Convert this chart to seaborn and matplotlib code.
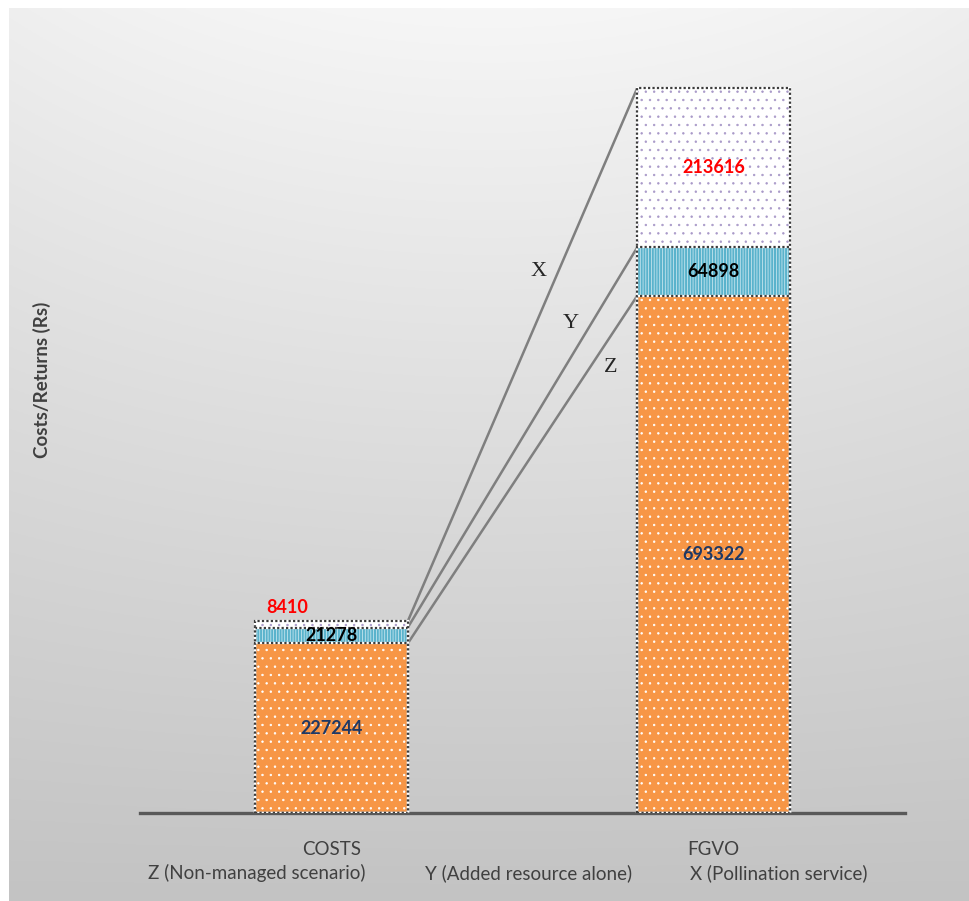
import numpy as np
import pandas as pd
import matplotlib
matplotlib.use("Agg")
import matplotlib.pyplot as plt
import seaborn as sns

# Values (Rs)
categories = ["COSTS", "FGVO"]
z_values = [227244, 693322]   # Z (Non-managed scenario)
y_values = [21278, 64898]     # Y (Added resource alone)
x_values = [8410, 213616]     # X (Pollination service)
legend_labels = ["Z (Non-managed scenario)", "Y (Added resource alone)", "X (Pollination service)"]
connector_labels = ["Z", "Y", "X"]

sns.set_theme(style="white")
plt.rcParams["font.family"] = ["Lato", "DejaVu Sans"]
plt.rcParams["hatch.linewidth"] = 0.5

W, H = 969, 901
fig = plt.figure(figsize=(W / 100, H / 100), dpi=100)
fig.patch.set_facecolor("white")

# Soft grey gradient panel behind the chart
bg = fig.add_axes([9 / W, 0, 1 - 9 / W, 1 - 8 / H], zorder=0)
yy = np.linspace(0, 1, 400)[:, None]
xx = np.linspace(-1, 1, 400)[None, :]
shade = 0.965 - 0.2 * yy - 0.03 * (1 - yy) * xx ** 2
shade = np.clip(shade, 0, 1)
bg.imshow(np.dstack([shade, shade, shade]), aspect="auto", extent=[0, 1, 1, 0])
bg.set_axis_off()

ax = fig.add_axes([140 / W, 1 - 813 / H, (905 - 140) / W, (813 - 50) / H], zorder=1)
ax.patch.set_alpha(0)

df = pd.DataFrame({
    "cat": categories,
    "z": z_values,
    "y": y_values,
    "x": x_values,
})
df["zy"] = df["z"] + df["y"]
df["zyx"] = df["zy"] + df["x"]

layers = [
    ("zyx", "white", "..", "#a898c8"),
    ("zy", "#5ab3cc", "||||||", "#d8eef4"),
    ("z", "#f79646", "..", "white"),
]
for col, face, hatch, hcol in layers:
    n0 = len(ax.patches)
    sns.barplot(data=df, x="cat", y=col, order=categories, color=face,
                saturation=1, width=0.4, ax=ax, errorbar=None)
    for p in ax.patches[n0:]:
        p.set_facecolor(face)
        p.set_hatch(hatch)
        p.set_edgecolor(hcol)
        p.set_linewidth(0)

# Dotted segment outlines
for col in ["zyx", "zy", "z"]:
    for i, v in enumerate(df[col]):
        for lw, c, ls in [(1.6, "white", "-"), (1.6, "#3c3c3c", (0, (1, 1)))]:
            ax.add_patch(plt.Rectangle((i - 0.2, 0), 0.4, v, fill=False,
                                       edgecolor=c, linewidth=lw, linestyle=ls, zorder=3))

# Connector lines from the COSTS stack to the FGVO stack
for col in ["z", "zy", "zyx"]:
    ax.plot([0.2, 0.8], [df[col][0], df[col][1]], color="#7f7f7f", lw=1.8,
            zorder=2, solid_capstyle="butt")

ax.set_xlim(-0.5, 1.5)
ax.set_ylim(0, 1022760)

# Segment value labels
navy, red = "#1f3864", "#ff0000"
fs = 13
for i in range(2):
    ax.text(i, z_values[i] / 2, f"{z_values[i]}", ha="center", va="center",
            color=navy, fontsize=fs, fontweight="bold", zorder=5)
    ax.text(i, z_values[i] + y_values[i] / 2, f"{y_values[i]}", ha="center", va="center",
            color="black", fontsize=fs, fontweight="bold", zorder=5)
ax.text(1, z_values[1] + y_values[1] + x_values[1] / 2, f"{x_values[1]}", ha="center",
        va="center", color=red, fontsize=fs, fontweight="bold", zorder=5)
ax.annotate(f"{x_values[0]}", xy=(-0.171, df["zyx"][0]), xytext=(0, 4),
            textcoords="offset points", ha="left", va="bottom", color=red,
            fontsize=fs, fontweight="bold", zorder=5)

# Connector letters
for lab, (px, py) in zip(connector_labels, [(611, 368), (571, 324), (539, 272)]):
    fig.text(px / W, 1 - py / H, lab, ha="center", va="center", fontsize=16,
             family=["Liberation Serif", "DejaVu Serif"], color="#262626")

# Axes styling
for s in ["left", "right", "top"]:
    ax.spines[s].set_visible(False)
ax.spines["bottom"].set_color("#595959")
ax.spines["bottom"].set_linewidth(2.4)
ax.set_yticks([])
ax.set_xlabel("")
ax.set_ylabel("")
ax.tick_params(axis="x", length=0, pad=20, labelsize=13.5, labelcolor="#404040")

fig.text(42 / W, 1 - 380 / H, "Costs/Returns (Rs)", rotation=90, ha="center",
         va="center", fontsize=13.5, fontweight="bold", color="#404040")

for lab, cx in zip(legend_labels, [257, 529, 779]):
    fig.text(cx / W, 1 - 873 / H, lab, ha="center", va="center", fontsize=13.5,
             color="#404040")

fig.savefig("out.png", dpi=100, facecolor=fig.get_facecolor())
